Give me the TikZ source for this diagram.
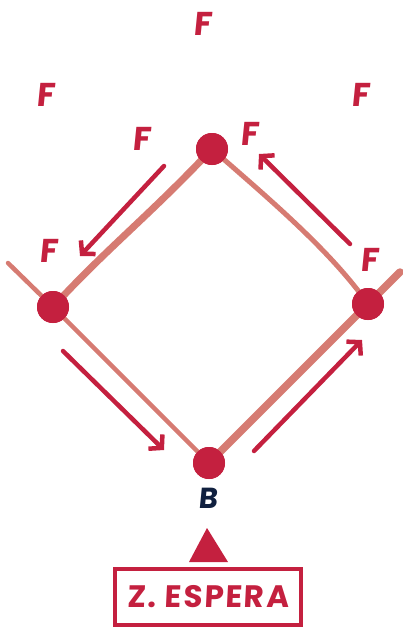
\documentclass[tikz,border=0pt]{standalone}
\usepackage{fontspec}
\setmainfont{Poppins}
\newfontfamily\hand[FakeSlant=0.1]{Poppins Bold}
\newfontfamily\handbox[FakeSlant=0.05,LetterSpace=6]{Poppins Bold}
\usetikzlibrary{arrows.meta}
\definecolor{crim}{HTML}{C4203F}
\definecolor{salm}{HTML}{D67B72}
\definecolor{navy}{HTML}{10203F}
\tikzset{
  dot/.style={circle,fill=crim,minimum size=32pt,inner sep=0pt},
  road/.style={salm,line cap=round},
  flow/.style={crim,line width=4.5pt,line cap=round,-{Straight Barb[length=9pt,width=20pt,line width=4.5pt]}},
  flab/.style={crim,font=\hand\fontsize{33}{33}\selectfont,inner sep=0pt},
}
\begin{document}
\begin{tikzpicture}[x=1pt,y=-1pt]
\useasboundingbox (0,0) rectangle (402,627);
% nodes
\node[dot] (T) at (212,149) {};
\node[dot] (L) at (53,307) {};
\node[dot] (Bt) at (209,463) {};
\node[dot] (R) at (368,304) {};
\coordinate (Lx) at (8,263);
\coordinate (Rx) at (400,272);
% roads
\draw[road,line width=7pt] (L.center) .. controls (105,250) and (150,215) .. (T.center);
\draw[road,line width=5pt] (T.center) .. controls (268,198) and (330,250) .. (R.center);
\draw[road,line width=4.5pt] (Lx) -- (L.center) -- (Bt.center);
\draw[road,line width=7.5pt] (Bt.center) -- (R.center) -- (Rx);
\node[dot] at (T) {};
\node[dot] at (L) {};
\node[dot] at (Bt) {};
\node[dot] at (R) {};
% arrows
\coordinate (a1) at (164,166); \coordinate (a1e) at (80,256);
\coordinate (a2) at (350,244); \coordinate (a2e) at (259,154);
\coordinate (a3) at (63,351);  \coordinate (a3e) at (164,450);
\coordinate (a4) at (254,451); \coordinate (a4e) at (362,340);
\draw[flow] (a1) -- (a1e);
\draw[flow] (a2) -- (a2e);
\draw[flow] (a3) -- (a3e);
\draw[flow] (a4) -- (a4e);
% F labels
\node[flab] (f1) at (203,24) {F};
\node[flab] (f2) at (46,95) {F};
\node[flab] (f3) at (361,95) {F};
\node[flab] (f4) at (142,139) {F};
\node[flab] (f5) at (250,134) {F};
\node[flab] (f6) at (49,251) {F};
\node[flab] (f7) at (370,260) {F};
% B
\node[navy,font=\hand\fontsize{29}{29}\selectfont,inner sep=0pt] (blab) at (208,498) {B};
% triangle
\fill[crim] (207,528) -- (228,562) -- (189,562) -- cycle;
% box
\node[draw=crim,line width=3.5pt,minimum width=186pt,minimum height=56pt,inner sep=0pt,
  text=crim,font=\handbox\fontsize{31}{31}\selectfont] (box) at (208,597) {Z. ESPERA};
\end{tikzpicture}
\end{document}
